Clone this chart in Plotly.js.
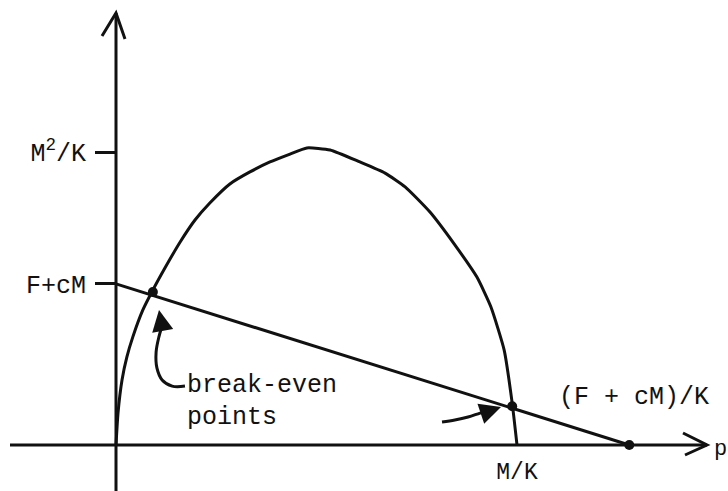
<!DOCTYPE html>
<html>
<head>
<meta charset="utf-8">
<script src="https://cdn.plot.ly/plotly-3.0.1.min.js"></script>
<style>html,body{margin:0;padding:0;background:#fff;}#chart{width:728px;height:491px;}</style>
</head>
<body>
<div id="chart"></div>
<script>
// ---- values (units: p in M/K, y in M^2/K) ----
var MK = 1.0;          // M/K on the p axis
var M2K = 1.0;         // M^2/K on the vertical axis
var FcM = 0.55;        // F + cM intercept
var FcMK = 1.28;       // (F + cM)/K intercept on p axis

// revenue curve
var curveP = [0, 0.005, 0.015, 0.027, 0.042, 0.067, 0.092, 0.122, 0.160, 0.197, 0.234, 0.284, 0.334, 0.384, 0.434, 0.476, 0.534, 0.608, 0.671, 0.721, 0.783, 0.845, 0.900, 0.935, 0.968, 0.988, 1.0];
var curveY = [0, 0.109, 0.222, 0.300, 0.369, 0.461, 0.529, 0.604, 0.693, 0.768, 0.826, 0.891, 0.932, 0.966, 0.993, 1.014, 1.007, 0.966, 0.928, 0.881, 0.795, 0.683, 0.573, 0.471, 0.324, 0.143, 0];

// cost line
var costP = [0, FcMK];
var costY = [FcM, 0];

// break-even points and intercept
var dotP = [0.092, 0.988, FcMK];
var dotY = [0.522, 0.132, 0];

// tick labels
var yTickVals = [FcM, M2K];
var yTickText = ['F+cM', 'M<sup>2</sup>/K'];
var xTickVals = [MK];
var xTickText = ['M/K'];

// pointer curves (decoration)
var ptr1P = [0.172, 0.140, 0.115, 0.102, 0.100, 0.107, 0.115];
var ptr1Y = [0.201, 0.201, 0.222, 0.263, 0.317, 0.369, 0.406];
var ptr2P = [0.813, 0.845, 0.878, 0.908, 0.933];
var ptr2Y = [0.0785, 0.0853, 0.0956, 0.109, 0.119];

// ---- drawing ----
var W = 728, H = 491;
var X0 = 116, Y0 = 445, SX = 401, SY = 293; // pixel geometry
function dx(px){ return (px - X0) / SX; }
function dy(py){ return (Y0 - py) / SY; }

var font = 'Liberation Mono, Courier New, monospace';
var ink = '#111';

var traces = [
  {x: curveP, y: curveY, mode: 'lines', line: {color: ink, width: 3, shape: 'spline', smoothing: 0.5}, hoverinfo: 'skip'},
  {x: costP, y: costY, mode: 'lines', line: {color: ink, width: 3}, hoverinfo: 'skip'},
  {x: ptr1P, y: ptr1Y, mode: 'lines', line: {color: ink, width: 3, shape: 'spline'}, hoverinfo: 'skip'},
  {x: ptr2P, y: ptr2Y, mode: 'lines', line: {color: ink, width: 3, shape: 'spline'}, hoverinfo: 'skip'},
  {x: dotP, y: dotY, mode: 'markers', marker: {color: ink, size: 10}, hoverinfo: 'skip'}
];

var shapes = [
  {type: 'line', xref: 'x', yref: 'y', x0: 0, y0: dy(491), x1: 0, y1: dy(13), line: {color: ink, width: 3}},
  {type: 'path', xref: 'x', yref: 'y',
   path: 'M' + dx(102) + ',' + dy(36) + ' L0,' + dy(13) + ' L' + dx(125) + ',' + dy(39),
   line: {color: ink, width: 3}},
  {type: 'line', xref: 'x', yref: 'y', x0: dx(10), y0: 0, x1: dx(707), y1: 0, line: {color: ink, width: 3}},
  {type: 'path', xref: 'x', yref: 'y',
   path: 'M' + dx(683) + ',' + dy(433) + ' L' + dx(707) + ',0 L' + dx(685) + ',' + dy(455),
   line: {color: ink, width: 3}}
];

var annotations = [
  {x: dx(185), y: dy(385), xref: 'x', yref: 'y', text: 'break-even', showarrow: false, xanchor: 'left', yanchor: 'middle', font: {family: font, size: 25, color: ink}},
  {x: dx(185), y: dy(417), xref: 'x', yref: 'y', text: 'points', showarrow: false, xanchor: 'left', yanchor: 'middle', font: {family: font, size: 25, color: ink}},
  {x: dx(557), y: dy(397), xref: 'x', yref: 'y', text: '(F + cM)/K', showarrow: false, xanchor: 'left', yanchor: 'middle', font: {family: font, size: 25, color: ink}},
  {x: dx(720), y: dy(449), xref: 'x', yref: 'y', text: 'p', showarrow: false, xanchor: 'center', yanchor: 'middle', font: {family: font, size: 22, color: ink}},
  {x: dx(159), y: dy(310), xref: 'x', yref: 'y', text: '', showarrow: true, arrowhead: 2, arrowsize: 1.7, arrowwidth: 2.5, arrowcolor: ink, ax: 3, ay: 17},
  {x: dx(501), y: dy(407), xref: 'x', yref: 'y', text: '', showarrow: true, arrowhead: 2, arrowsize: 1.7, arrowwidth: 2.5, arrowcolor: ink, ax: -12, ay: 4}
];

var layout = {
  width: W, height: H,
  margin: {l: 0, r: 0, t: 0, b: 0, pad: 0},
  paper_bgcolor: '#fff', plot_bgcolor: '#fff',
  showlegend: false,
  xaxis: {
    range: [dx(0), dx(W)], anchor: 'free', position: 1 - Y0 / H,
    showgrid: false, zeroline: false, showline: false,
    tickvals: xTickVals, ticktext: xTickText, ticks: '',
    tickfont: {family: font, size: 23, color: ink}, ticklabelstandoff: 10, fixedrange: true
  },
  yaxis: {
    range: [dy(H), dy(0)], anchor: 'free', position: X0 / W, side: 'left',
    showgrid: false, zeroline: false, showline: false,
    tickvals: yTickVals, ticktext: yTickText, ticks: 'outside', ticklen: 21, tickwidth: 3, tickcolor: ink,
    tickfont: {family: font, size: 25, color: ink}, ticklabelstandoff: 4, fixedrange: true
  },
  shapes: shapes,
  annotations: annotations
};

Plotly.newPlot('chart', traces, layout, {staticPlot: true, displayModeBar: false});
</script>
</body>
</html>
